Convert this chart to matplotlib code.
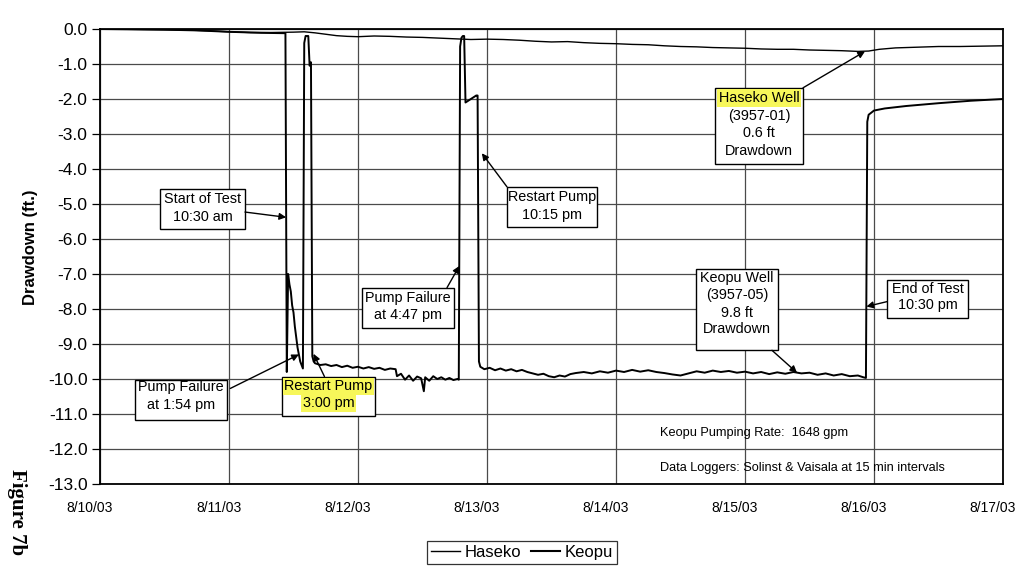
import numpy as np
import matplotlib
matplotlib.use("Agg")
import matplotlib.pyplot as plt
from matplotlib import font_manager
from matplotlib.patches import Rectangle
from matplotlib.lines import Line2D
from matplotlib.transforms import ScaledTranslation

# ---------------------------------------------------------------- data
# elapsed hours since 8/10/03 00:00 and drawdown (ft)
haseko_hours = [0, 6, 12, 16, 20, 24, 28, 32, 36, 38,
                40, 42, 44, 46, 48, 51, 54, 57, 60, 63,
                66, 69, 72, 75, 78, 81, 84, 87, 90, 93,
                96, 99, 102, 105, 108, 111, 114, 117, 120, 123,
                126, 129, 132, 135, 138, 141, 143, 145, 148, 152,
                156, 160, 164, 168]
haseko_ft = [0.0, -0.01, -0.02, -0.03, -0.05, -0.08, -0.1, -0.1, -0.09, -0.08,
             -0.11, -0.15, -0.19, -0.21, -0.22, -0.2, -0.21, -0.23, -0.24, -0.26,
             -0.28, -0.3, -0.29, -0.3, -0.32, -0.35, -0.37, -0.36, -0.39, -0.41,
             -0.42, -0.44, -0.45, -0.48, -0.5, -0.51, -0.53, -0.54, -0.55, -0.57,
             -0.58, -0.58, -0.6, -0.61, -0.62, -0.64, -0.63, -0.58, -0.54, -0.52,
             -0.5, -0.5, -0.49, -0.48]

keopu_hours = [0, 6, 12, 18, 24, 30, 34.5,
               34.75, 35.0, 35.25, 35.5, 35.75, 36.0, 36.25, 36.5, 36.75, 37.0, 37.25, 37.5, 37.75,
               38.0, 38.25, 38.5, 38.75, 39.0, 39.25, 39.5, 39.75, 40.0,
               41, 42, 43, 44, 45, 46, 47, 48, 49, 50, 51, 52, 53, 54, 55,
               55.25, 56, 56.75, 57.5, 58.25, 59, 59.75, 60.25, 60.5, 61.25, 62, 62.75,
               63.5, 64.25, 65, 65.75, 66.5, 66.75,
               67.0, 67.25, 67.5, 67.75, 68.0, 68.5, 69.0, 69.5, 70.0, 70.25,
               70.5, 70.75, 71.5, 72.5, 73.5, 74.5, 75.5, 76.5, 77.5, 78.5,
               79.5, 80.5, 81.5, 82.5, 83.5, 84.5, 85.5, 86.5, 87.5, 88.5,
               90, 91.5, 93, 94.5, 96, 97.5, 99, 100.5, 102, 103.5,
               105, 106.5, 108, 109.5, 111, 112.5, 114, 115.5, 117, 118.5,
               120, 121.5, 123, 124.5, 126, 127.5, 129, 130.5, 132, 133.5,
               135, 136.5, 138, 139.5, 141, 142, 142.5,
               142.75, 143.0, 144.0, 146, 150, 156, 162, 168]
keopu_ft = [0.0, -0.01, -0.02, -0.04, -0.08, -0.11, -0.12,
            -9.8, -7.0, -7.3, -7.5, -7.9, -8.1, -8.5, -8.8, -9.1, -9.3, -9.5, -9.6, -9.7,
            -0.4, -0.2, -0.2, -0.2, -1.05, -0.95, -9.35, -9.5, -9.55,
            -9.6, -9.58, -9.63, -9.6, -9.66, -9.62, -9.68, -9.65, -9.7, -9.66, -9.71, -9.68, -9.74, -9.7, -9.72,
            -9.92, -9.85, -10.02, -9.9, -10.05, -9.93, -9.98, -10.35, -9.95, -10.05, -9.92, -10.0,
            -9.95, -10.02, -9.97, -10.03, -10.0, -10.02,
            -0.5, -0.25, -0.2, -0.2, -2.1, -2.05, -2.0, -1.95, -1.9, -1.9,
            -9.5, -9.65, -9.72, -9.68, -9.75, -9.7, -9.76, -9.72, -9.78, -9.74,
            -9.8, -9.84, -9.88, -9.85, -9.92, -9.95, -9.9, -9.93, -9.86, -9.83,
            -9.8, -9.84, -9.78, -9.82, -9.76, -9.8, -9.74, -9.79, -9.75, -9.8,
            -9.83, -9.87, -9.9, -9.84, -9.78, -9.82, -9.76, -9.8, -9.77, -9.82,
            -9.79, -9.84, -9.8, -9.86, -9.81, -9.85, -9.8, -9.84, -9.82, -9.88,
            -9.84, -9.9, -9.86, -9.92, -9.9, -9.95, -9.97,
            -2.65, -2.45, -2.33, -2.27, -2.2, -2.12, -2.05, -2.0]

series_names = ["Haseko", "Keopu"]
day_ticks = [0, 1, 2, 3, 4, 5, 6, 7]
day_labels = ["8/10/03", "8/11/03", "8/12/03", "8/13/03",
              "8/14/03", "8/15/03", "8/16/03", "8/17/03"]
ft_ticks = [0, -1, -2, -3, -4, -5, -6, -7, -8, -9, -10, -11, -12, -13]
ft_labels = ["0.0", "-1.0", "-2.0", "-3.0", "-4.0", "-5.0", "-6.0",
             "-7.0", "-8.0", "-9.0", "-10.0", "-11.0", "-12.0", "-13.0"]


# ---------------------------------------------------------------- fonts
def have_font(name):
    try:
        font_manager.findfont(font_manager.FontProperties(family=name),
                              fallback_to_default=False)
        return True
    except ValueError:
        return False


plt.rcParams["font.family"] = ["Liberation Sans", "DejaVu Sans"]
if have_font("Liberation Sans Narrow"):
    note_family, note_size = ["Liberation Sans Narrow", "Liberation Sans"], 11
else:
    note_family, note_size = ["Liberation Sans", "DejaVu Sans"], 9.2

# ---------------------------------------------------------------- figure
fig = plt.figure(figsize=(10.18, 5.68), dpi=100)
ax = fig.add_axes([100 / 1018, 1 - 484 / 568, 903 / 1018, 455 / 568])

h_days = np.asarray(haseko_hours) / 24.0
k_days = np.asarray(keopu_hours) / 24.0
ax.plot(h_days, haseko_ft, color="black", lw=1.0, zorder=3)
ax.plot(k_days, keopu_ft, color="black", lw=1.4, zorder=3)

ax.set_xlim(0, 7)
ax.set_ylim(-13, 0)
ax.set_xticks(day_ticks)
ax.set_xticklabels(day_labels)
ax.set_yticks(ft_ticks)
ax.set_yticklabels(ft_labels)
ax.grid(True, color="#4a4a4a", lw=0.9)
ax.set_axisbelow(True)
for s in ax.spines.values():
    s.set_linewidth(1.3)
    s.set_color("black")

ax.tick_params(axis="y", length=6, width=0.9, pad=3, labelsize=12.5)
ax.tick_params(axis="x", length=0, pad=12, labelsize=10)
shift = ScaledTranslation(-0.10, 0, fig.dpi_scale_trans)
for lbl in ax.get_xticklabels():
    lbl.set_transform(lbl.get_transform() + shift)

ax.set_ylabel("Drawdown (ft.)", fontsize=12, fontweight="bold")
ax.yaxis.set_label_coords(-0.0775, 0.52)
ax.yaxis.label.set_va("center")

YELLOW = "#f7f75a"


def callout(lines, t0, t1, vtop, vbot, line_v, target, tail, highlight=()):
    ax.add_patch(Rectangle((t0, vbot), t1 - t0, vtop - vbot, fc="white",
                           ec="black", lw=1.0, zorder=5))
    tc = 0.5 * (t0 + t1)
    for i, (txt, v) in enumerate(zip(lines, line_v)):
        kw = {}
        if i in highlight:
            kw["bbox"] = dict(boxstyle="square,pad=0.12", fc=YELLOW, ec="none")
        ax.text(tc, v, txt, ha="center", va="center", fontsize=10.4,
                zorder=7, **kw)
    ax.annotate("", xy=target, xytext=tail,
                arrowprops=dict(arrowstyle="-|>", color="black", lw=1.0,
                                mutation_scale=10, shrinkA=0, shrinkB=0),
                zorder=6)


callout(["Start of Test", "10:30 am"], 0.465, 1.124, -4.57, -5.71,
        [-4.86, -5.37], (1.443, -5.38), (1.124, -5.23))
callout(["Pump Failure", "at 1:54 pm"], 0.271, 0.984, -10.04, -11.16,
        [-10.24, -10.75], (1.542, -9.3), (1.01, -10.27))
callout(["Restart Pump", "3:00 pm"], 1.411, 2.132, -9.93, -11.07,
        [-10.21, -10.70], (1.655, -9.28), (1.74, -9.93), highlight=(0, 1))
callout(["Pump Failure", "at 4:47 pm"], 2.031, 2.744, -7.39, -8.54,
        [-7.68, -8.17], (2.786, -6.77), (2.69, -7.39))
callout(["Restart Pump", "10:15 pm"], 3.155, 3.853, -4.51, -5.66,
        [-4.80, -5.31], (2.96, -3.55), (3.155, -4.51))
callout(["Haseko Well", "(3957-01)", "0.6 ft", "Drawdown"], 4.767, 5.450,
        -1.68, -3.85, [-1.97, -2.48, -2.97, -3.48], (5.93, -0.64),
        (5.45, -1.68), highlight=(0,))
callout(["Keopu Well", "(3957-05)", "9.8 ft", "Drawdown"], 4.62, 5.256,
        -6.87, -9.18, [-7.12, -7.61, -8.12, -8.58], (5.403, -9.82),
        (5.209, -9.18))
callout(["End of Test", "10:30 pm"], 6.10, 6.729, -7.16, -8.27,
        [-7.42, -7.90], (5.941, -7.93), (6.10, -7.79))

ax.text(4.341, -11.55, "Keopu Pumping Rate:  1648 gpm", ha="left",
        va="center", family=note_family, fontsize=note_size, zorder=7)
ax.text(4.341, -12.55, "Data Loggers: Solinst & Vaisala at 15 min intervals",
        ha="left", va="center", family=note_family, fontsize=note_size,
        zorder=7)

handles = [Line2D([], [], color="black", lw=1.0),
           Line2D([], [], color="black", lw=1.5)]
leg = fig.legend(handles, series_names, loc="center",
                 bbox_to_anchor=(0.513, 0.027), ncol=2, fontsize=12,
                 frameon=True, fancybox=False, edgecolor="black",
                 handlelength=1.7, handletextpad=0.3, columnspacing=0.6,
                 borderpad=0.25, borderaxespad=0)
leg.get_frame().set_linewidth(0.9)

fig.text(17 / 1018, 1 - 512 / 568, "Figure 7b", rotation=-90, ha="center",
         va="center", family=["Liberation Serif", "DejaVu Serif"],
         fontweight="bold", fontsize=15)

fig.savefig("out.png", dpi=100)
